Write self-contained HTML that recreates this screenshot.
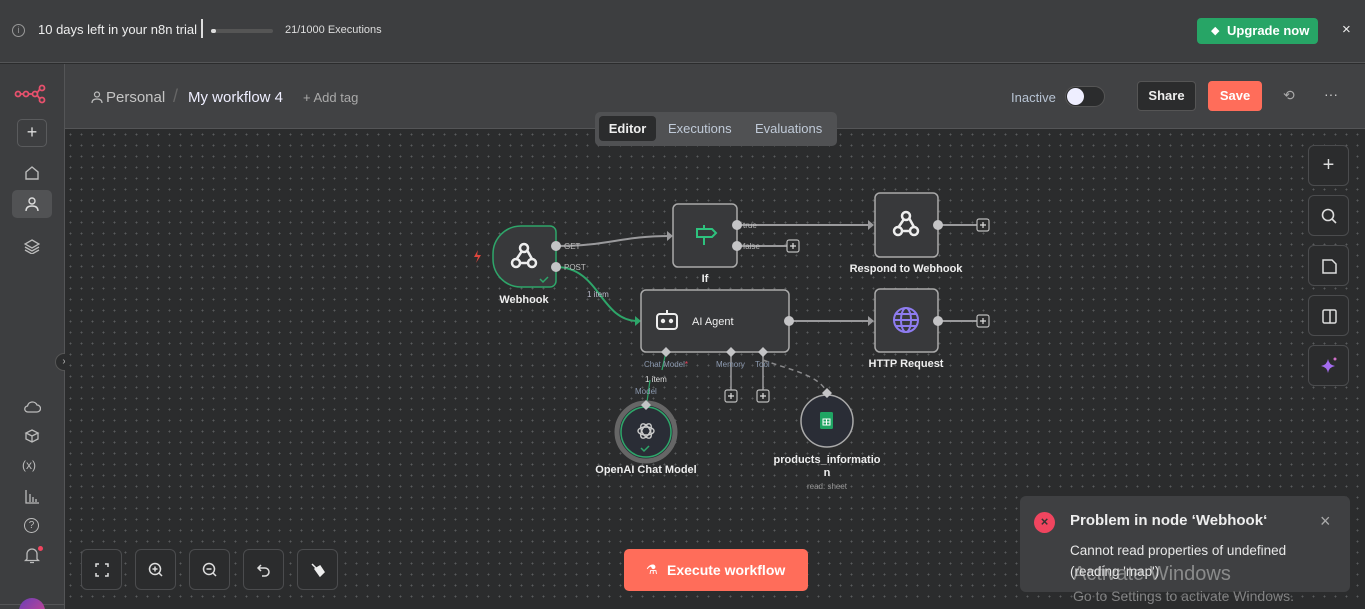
<!DOCTYPE html>
<html><head><meta charset="utf-8"><style>
*{margin:0;padding:0;box-sizing:border-box}
html,body{width:1365px;height:609px;overflow:hidden}
body{background:#2b2c2d;font-family:"Liberation Sans",sans-serif;position:relative;color:#ddd}
.abs{position:absolute}
.top{left:0;top:0;width:1365px;height:63px;background:#3d3e40;border-bottom:1px solid #545557}
.side{left:0;top:64px;width:65px;height:545px;background:#3d3e40;border-right:1px solid #545557}
.hdr{left:65px;top:64px;width:1300px;height:65px;background:#414244;border-bottom:1px solid #545557}
.canvas{left:65px;top:129px;width:1300px;height:476px;background-color:#2b2c2d;background-image:radial-gradient(circle,#5a5b5d 0.8px,transparent 1px);background-size:11px 11px}
.btn{width:41px;height:41px;border:1px solid #4b4c4e;border-radius:6px;background:#2b2c2d}
</style></head><body>
<div class="abs top">
  <div class="abs" style="left:12px;top:24px;width:13px;height:13px;border:1.3px solid #999;border-radius:50%;font-size:9px;text-align:center;line-height:11px;color:#999">i</div>
  <div class="abs" style="left:38px;top:22px;font-size:13px;color:#eee">10 days left in your n8n trial</div>
  <div class="abs" style="left:201px;top:19px;width:2px;height:19px;background:#ddd"></div>
  <div class="abs" style="left:211px;top:29px;width:62px;height:4px;background:#555;border-radius:2px"></div>
  <div class="abs" style="left:211px;top:29px;width:5px;height:4px;background:#ddd;border-radius:2px"></div>
  <div class="abs" style="left:285px;top:24px;font-size:11px;color:#ddd">21/1000 Executions</div>
  <div class="abs" style="left:1197px;top:18px;width:121px;height:26px;background:#27a566;border-radius:4px;color:#fff;font-size:13px;font-weight:bold;line-height:26px;padding-left:30px">Upgrade now</div>
  <div class="abs" style="left:1211px;top:24px;font-size:11px;color:#fff">◆</div>
  <div class="abs" style="left:1342px;top:21px;font-size:15px;color:#eee">×</div>
</div>
<div class="abs side">
  <svg class="abs" style="left:14px;top:20px" width="34" height="20"><g fill="none" stroke="#e8516d" stroke-width="1.8"><circle cx="4" cy="10" r="2.5"/><circle cx="12" cy="10" r="2.5"/><circle cx="21" cy="10" r="2.5"/><circle cx="28" cy="4" r="2.5"/><circle cx="28" cy="16" r="2.5"/><path d="M6.5 10h3M14.5 10h4M23 9 26 5M23 11 26 15"/></g></svg>
  <div class="abs" style="left:17px;top:55px;width:30px;height:28px;border:1px solid #5a5b5d;border-radius:5px;text-align:center;font-size:18px;line-height:25px;color:#ddd">+</div>
  <svg class="abs" style="left:24px;top:101px" width="16" height="16"><path d="M2 7 8 2 14 7V14H2z" fill="none" stroke="#bbb" stroke-width="1.4"/></svg>
  <div class="abs" style="left:12px;top:126px;width:40px;height:28px;background:#515254;border-radius:5px"></div>
  <svg class="abs" style="left:24px;top:132px" width="16" height="16"><g fill="none" stroke="#ddd" stroke-width="1.4"><circle cx="8" cy="5" r="3"/><path d="M2 15c0-4 3-5 6-5s6 1 6 5"/></g></svg>
  <svg class="abs" style="left:24px;top:174px" width="16" height="16"><g fill="none" stroke="#bbb" stroke-width="1.3"><path d="M8 2 15 6 8 10 1 6z M1 9l7 4 7-4 M1 12l7 4 7-4"/></g></svg>
  <div class="abs" style="left:55px;top:289px;width:18px;height:18px;border-radius:50%;background:#2b2c2d;border:1px solid #555;color:#bbb;font-size:10px;text-align:center;line-height:16px">›</div>
  <svg class="abs" style="left:23px;top:336px" width="18" height="14"><path d="M5 12h9a3.5 3.5 0 0 0 0-7 5 5 0 0 0-9.5 1A3 3 0 0 0 5 12z" fill="none" stroke="#bbb" stroke-width="1.3"/></svg>
  <svg class="abs" style="left:24px;top:364px" width="16" height="16"><g fill="none" stroke="#bbb" stroke-width="1.3"><path d="M8 2 14 5 8 8 2 5z M2 5v6l6 3 6-3V5 M8 8v6"/></g></svg>
  <div class="abs" style="left:22px;top:394px;font-size:12px;color:#bbb">(x)</div>
  <svg class="abs" style="left:25px;top:425px" width="15" height="15"><path d="M1 1v13h13M5 13V5M8 13V8M11 13v-3" fill="none" stroke="#bbb" stroke-width="1.3"/></svg>
  <div class="abs" style="left:24px;top:454px;width:15px;height:15px;border:1.3px solid #bbb;border-radius:50%;font-size:10px;text-align:center;line-height:13px;color:#bbb">?</div>
  <svg class="abs" style="left:24px;top:483px" width="16" height="17"><path d="M3 12V7a5 5 0 0 1 10 0v5l1.5 1.5h-13z M6 15.5h4" fill="none" stroke="#bbb" stroke-width="1.3"/></svg>
  <div class="abs" style="left:38px;top:482px;width:5px;height:5px;border-radius:50%;background:#f0455f"></div>
  <div class="abs" style="left:0;top:540px;width:64px;height:1px;background:#545557"></div>
  <div class="abs" style="left:19px;top:534px;width:26px;height:26px;border-radius:50%;background:linear-gradient(135deg,#6b3fb8,#d4458a)"></div>
</div>
<div class="abs hdr">
  <svg class="abs" style="left:26px;top:27px" width="12" height="12"><g fill="none" stroke="#bbb" stroke-width="1.2"><circle cx="6" cy="3.5" r="2.5"/><path d="M1 12c0-3 2-4 5-4s5 1 5 4"/></g></svg>
  <div class="abs" style="left:41px;top:25px;font-size:15px;color:#c4c4c4">Personal</div>
  <div class="abs" style="left:108px;top:22px;font-size:18px;color:#666">/</div>
  <div class="abs" style="left:123px;top:25px;font-size:15px;color:#eef">My workflow 4</div>
  <div class="abs" style="left:238px;top:26px;font-size:13px;color:#aaa">+ Add tag</div>
  <div class="abs" style="left:946px;top:26px;font-size:13px;color:#b7c3d3">Inactive</div>
  <div class="abs" style="left:1000px;top:22px;width:40px;height:21px;border-radius:11px;background:#2b2c2d;border:1px solid #555"></div>
  <div class="abs" style="left:1002px;top:24px;width:17px;height:17px;border-radius:50%;background:#eef"></div>
  <div class="abs" style="left:1072px;top:17px;width:59px;height:30px;border:1px solid #555;border-radius:4px;background:#2b2c2d;color:#eee;font-size:13px;font-weight:bold;text-align:center;line-height:28px">Share</div>
  <div class="abs" style="left:1143px;top:17px;width:54px;height:30px;border-radius:4px;background:#ff6d5a;color:#fff;font-size:13px;font-weight:bold;text-align:center;line-height:30px">Save</div>
  <div class="abs" style="left:1218px;top:23px;font-size:14px;color:#aaa">⟲</div>
  <div class="abs" style="left:1259px;top:22px;font-size:14px;color:#ccc">···</div>
</div>
<div class="abs canvas"></div>
<div class="abs" style="left:595px;top:112px;width:242px;height:34px;background:#505153;border-radius:5px"></div>
<div class="abs" style="left:599px;top:116px;width:57px;height:25px;background:#2b2c2d;border-radius:4px;color:#eee;font-size:13px;font-weight:bold;text-align:center;line-height:25px">Editor</div>
<div class="abs" style="left:668px;top:121px;font-size:13px;color:#c0cad8">Executions</div>
<div class="abs" style="left:755px;top:121px;font-size:13px;color:#c0cad8">Evaluations</div>

<svg class="abs" style="left:0;top:0" width="1365" height="609" font-family="Liberation Sans, sans-serif">
<g fill="none" stroke-width="2">
 <path d="M556 246 C610 246 620 236 670 236" stroke="#9a9a9c"/>
 <path d="M737 225 H870" stroke="#9a9a9c"/>
 <path d="M737 246 H787" stroke="#9a9a9c"/>
 <path d="M938 225 H977 M938 321 H977" stroke="#9a9a9c"/>
 <path d="M556 267 C600 267 600 321 638 321" stroke="#2ea66a"/>
 <path d="M789 321 H870" stroke="#9a9a9c"/>
 <path d="M731 352 V390 M763 352 V390" stroke="#9a9a9c" stroke-width="1.5"/>
 <path d="M763 360 C790 370 820 375 827 393" stroke="#8a8a8c" stroke-dasharray="5 4" stroke-width="1.5"/>
 <path d="M666 352 L662 370 M650 380 L647 402" stroke="#2ea66a" stroke-width="1.2"/>
</g>
<g fill="#9a9a9c">
 <path d="M667 231 l6 5 -6 5z"/><path d="M868 220 l6 5 -6 5z"/><path d="M868 316 l6 5 -6 5z"/>
</g>
<path d="M635 316 l6 5 -6 5z" fill="#2ea66a"/>
<path d="M521 226 H550 a6 6 0 0 1 6 6 V281 a6 6 0 0 1 -6 6 H521 a28 28 0 0 1 -28 -28 V254 a28 28 0 0 1 28 -28z" fill="#38393b" stroke="#2ea66a" stroke-width="1.5"/>
<rect x="673" y="204" width="64" height="63" rx="5" fill="#38393b" stroke="#aaa" stroke-width="1.5"/>
<rect x="875" y="193" width="63" height="64" rx="5" fill="#38393b" stroke="#aaa" stroke-width="1.5"/>
<rect x="641" y="290" width="148" height="62" rx="5" fill="#38393b" stroke="#aaa" stroke-width="1.5"/>
<rect x="875" y="289" width="63" height="63" rx="5" fill="#38393b" stroke="#aaa" stroke-width="1.5"/>
<circle cx="646" cy="432" r="29" fill="#2a2d36" stroke="#666" stroke-width="5"/>
<circle cx="646" cy="432" r="25" fill="none" stroke="#2ea66a" stroke-width="1.5"/>
<circle cx="827" cy="421" r="26" fill="#2a2d36" stroke="#aaa" stroke-width="1.5"/>
<g fill="#c4c4c6"><circle cx="556" cy="246" r="5"/><circle cx="556" cy="267" r="5"/><circle cx="737" cy="225" r="5"/><circle cx="737" cy="246" r="5"/><circle cx="938" cy="225" r="5"/><circle cx="938" cy="321" r="5"/><circle cx="789" cy="321" r="5"/>
<path d="M666 347 l5 5 -5 5 -5 -5z M731 347 l5 5 -5 5 -5 -5z M763 347 l5 5 -5 5 -5 -5z M646 400 l5 5 -5 5 -5 -5z M827 388 l5 5 -5 5 -5 -5z"/></g>
<g fill="#2b2c2d" stroke="#bbb" stroke-width="1.2"><rect x="787" y="240" width="12" height="12" rx="2"/><rect x="977" y="219" width="12" height="12" rx="2"/><rect x="977" y="315" width="12" height="12" rx="2"/><rect x="725" y="390" width="12" height="12" rx="2"/><rect x="757" y="390" width="12" height="12" rx="2"/></g>
<g stroke="#ddd" stroke-width="1.2"><path d="M793 243v6M790 246h6M983 222v6M980 225h6M983 318v6M980 321h6M731 393v6M728 396h6M763 393v6M760 396h6"/></g>
<g fill="none" stroke="#eee" stroke-width="2.5"><circle cx="524" cy="248" r="4"/><circle cx="516" cy="263" r="4"/><circle cx="532" cy="263" r="4"/><path d="M522 251 516 260M527 250 532 259M520 263h8"/></g>
<g fill="none" stroke="#eee" stroke-width="2.5"><circle cx="906" cy="216" r="4"/><circle cx="898" cy="231" r="4"/><circle cx="914" cy="231" r="4"/><path d="M904 219 898 228M909 218 914 227M902 231h8"/></g>
<g fill="none" stroke="#2ec27e" stroke-width="2"><path d="M697 229 h15 l4 4 -4 4 h-15z M704 225v4 M704 237v8"/></g>
<g fill="none" stroke="#eee" stroke-width="2"><rect x="657" y="314" width="20" height="15" rx="3"/><circle cx="663" cy="321" r="1.2" fill="#eee"/><circle cx="671" cy="321" r="1.2" fill="#eee"/><path d="M667 314v-4"/></g>
<g fill="none" stroke="#8e7cf0" stroke-width="2"><circle cx="906" cy="320" r="12"/><ellipse cx="906" cy="320" rx="5" ry="12"/><path d="M894 320h24M896 314h20M896 326h20"/></g>
<g fill="none" stroke="#ccc" stroke-width="1.4"><ellipse cx="646" cy="431" rx="8" ry="4"/><ellipse cx="646" cy="431" rx="8" ry="4" transform="rotate(60 646 431)"/><ellipse cx="646" cy="431" rx="8" ry="4" transform="rotate(120 646 431)"/></g>
<path d="M641 448l3 3 5-5" fill="none" stroke="#2ea66a" stroke-width="1.5"/>
<path d="M540 279l3 3 5-5" fill="none" stroke="#2ea66a" stroke-width="1.5"/>
<rect x="820" y="412" width="13" height="17" rx="1.5" fill="#1fa463"/><path d="M823 419h7v6h-7zM826.5 419v6M823 422h7" stroke="#fff" stroke-width="1" fill="none"/>
<path d="M478 250 l-4 7 h4 l-2 6 5 -8 h-4z" fill="#e0463c"/>
<g fill="#eee" font-size="11" font-weight="bold" text-anchor="middle">
<text x="524" y="303">Webhook</text><text x="705" y="282">If</text><text x="906" y="272">Respond to Webhook</text><text x="906" y="367">HTTP Request</text><text x="646" y="473">OpenAI Chat Model</text><text x="827" y="463">products_informatio</text><text x="827" y="476">n</text>
<text x="692" y="325" text-anchor="start" font-weight="normal">AI Agent</text>
</g>
<g fill="#bbb" font-size="8"><text x="564" y="249">GET</text><text x="564" y="270">POST</text><text x="743" y="228">true</text><text x="743" y="249">false</text>
<text x="587" y="297" fill="#bbc">1 item</text><text x="645" y="382" fill="#ddd">1 item</text>
<text x="644" y="367" fill="#8c9ab0">Chat Model<tspan fill="#f0455f">*</tspan></text><text x="716" y="367" fill="#8c9ab0">Memory</text><text x="755" y="367" fill="#8c9ab0">Tool</text><text x="635" y="394" fill="#8c9ab0">Model</text>
<text x="827" y="489" text-anchor="middle" fill="#999">read: sheet</text></g>
</svg>

<div class="abs btn" style="left:1308px;top:145px;text-align:center;font-size:20px;line-height:38px;color:#ddd">+</div>
<div class="abs btn" style="left:1308px;top:195px"><svg width="40" height="40"><circle cx="19" cy="19" r="5.5" fill="none" stroke="#ddd" stroke-width="1.6"/><path d="M23 23l4 4" stroke="#ddd" stroke-width="1.6"/></svg></div>
<div class="abs btn" style="left:1308px;top:245px"><svg width="40" height="40"><path d="M14 14h9l4 4v9h-13z" fill="none" stroke="#ddd" stroke-width="1.5"/></svg></div>
<div class="abs btn" style="left:1308px;top:295px"><svg width="40" height="40"><rect x="14" y="14" width="13" height="13" rx="1.5" fill="none" stroke="#ddd" stroke-width="1.5"/><path d="M21 14v13" stroke="#ddd" stroke-width="1.5"/></svg></div>
<div class="abs btn" style="left:1308px;top:345px"><svg width="40" height="40"><path d="M19 13 q1 6 7 7 q-6 1 -7 7 q-1 -6 -7 -7 q6 -1 7 -7z" fill="#a46cf0"/><circle cx="26" cy="13" r="1.5" fill="#d070c8"/></svg></div>

<div class="abs btn" style="left:81px;top:549px"><svg width="40" height="40"><path d="M14 17v-3h3M23 14h3v3M26 23v3h-3M17 26h-3v-3" fill="none" stroke="#ddd" stroke-width="1.5"/></svg></div>
<div class="abs btn" style="left:135px;top:549px"><svg width="40" height="40"><circle cx="19" cy="19" r="5.5" fill="none" stroke="#ddd" stroke-width="1.5"/><path d="M23 23l3 3M16.5 19h5M19 16.5v5" stroke="#ddd" stroke-width="1.5"/></svg></div>
<div class="abs btn" style="left:189px;top:549px"><svg width="40" height="40"><circle cx="19" cy="19" r="5.5" fill="none" stroke="#ddd" stroke-width="1.5"/><path d="M23 23l3 3M16.5 19h5" stroke="#ddd" stroke-width="1.5"/></svg></div>
<div class="abs btn" style="left:243px;top:549px"><svg width="40" height="40"><path d="M17 15l-3 3 3 3M14 18h7a4 4 0 0 1 0 8h-3" fill="none" stroke="#ddd" stroke-width="1.5"/></svg></div>
<div class="abs btn" style="left:297px;top:549px"><svg width="40" height="40"><path d="M14 14l4 4M17 19l5-3 4 6-4 4z" fill="#eee" stroke="#eee" stroke-width="1.5"/></svg></div>

<div class="abs" style="left:624px;top:549px;width:184px;height:42px;background:#ff6d5a;border-radius:5px;color:#fff;font-size:14px;font-weight:bold;line-height:42px;padding-left:43px">Execute workflow</div>
<div class="abs" style="left:646px;top:562px;color:#fff;font-size:13px">⚗</div>

<div class="abs" style="left:1020px;top:496px;width:330px;height:96px;background:#3f4042;border-radius:6px"></div>
<div class="abs" style="left:1034px;top:512px;width:21px;height:21px;border-radius:50%;background:#f0455f;color:#333;font-size:13px;text-align:center;line-height:20px;font-weight:bold">×</div>
<div class="abs" style="left:1070px;top:512px;font-size:15px;font-weight:bold;color:#eee">Problem in node ‘Webhook‘</div>
<div class="abs" style="left:1320px;top:511px;font-size:18px;color:#aaa">×</div>
<div class="abs" style="left:1070px;top:540px;font-size:13.5px;color:#e8e8e8;line-height:21px">Cannot read properties of undefined<br>(reading 'map')</div>
<div class="abs" style="left:1073px;top:563px;font-size:20px;color:rgba(200,200,200,0.55)">Activate Windows</div>
<div class="abs" style="left:1073px;top:588px;font-size:14px;color:rgba(200,200,200,0.55)">Go to Settings to activate Windows.</div>
</body></html>
